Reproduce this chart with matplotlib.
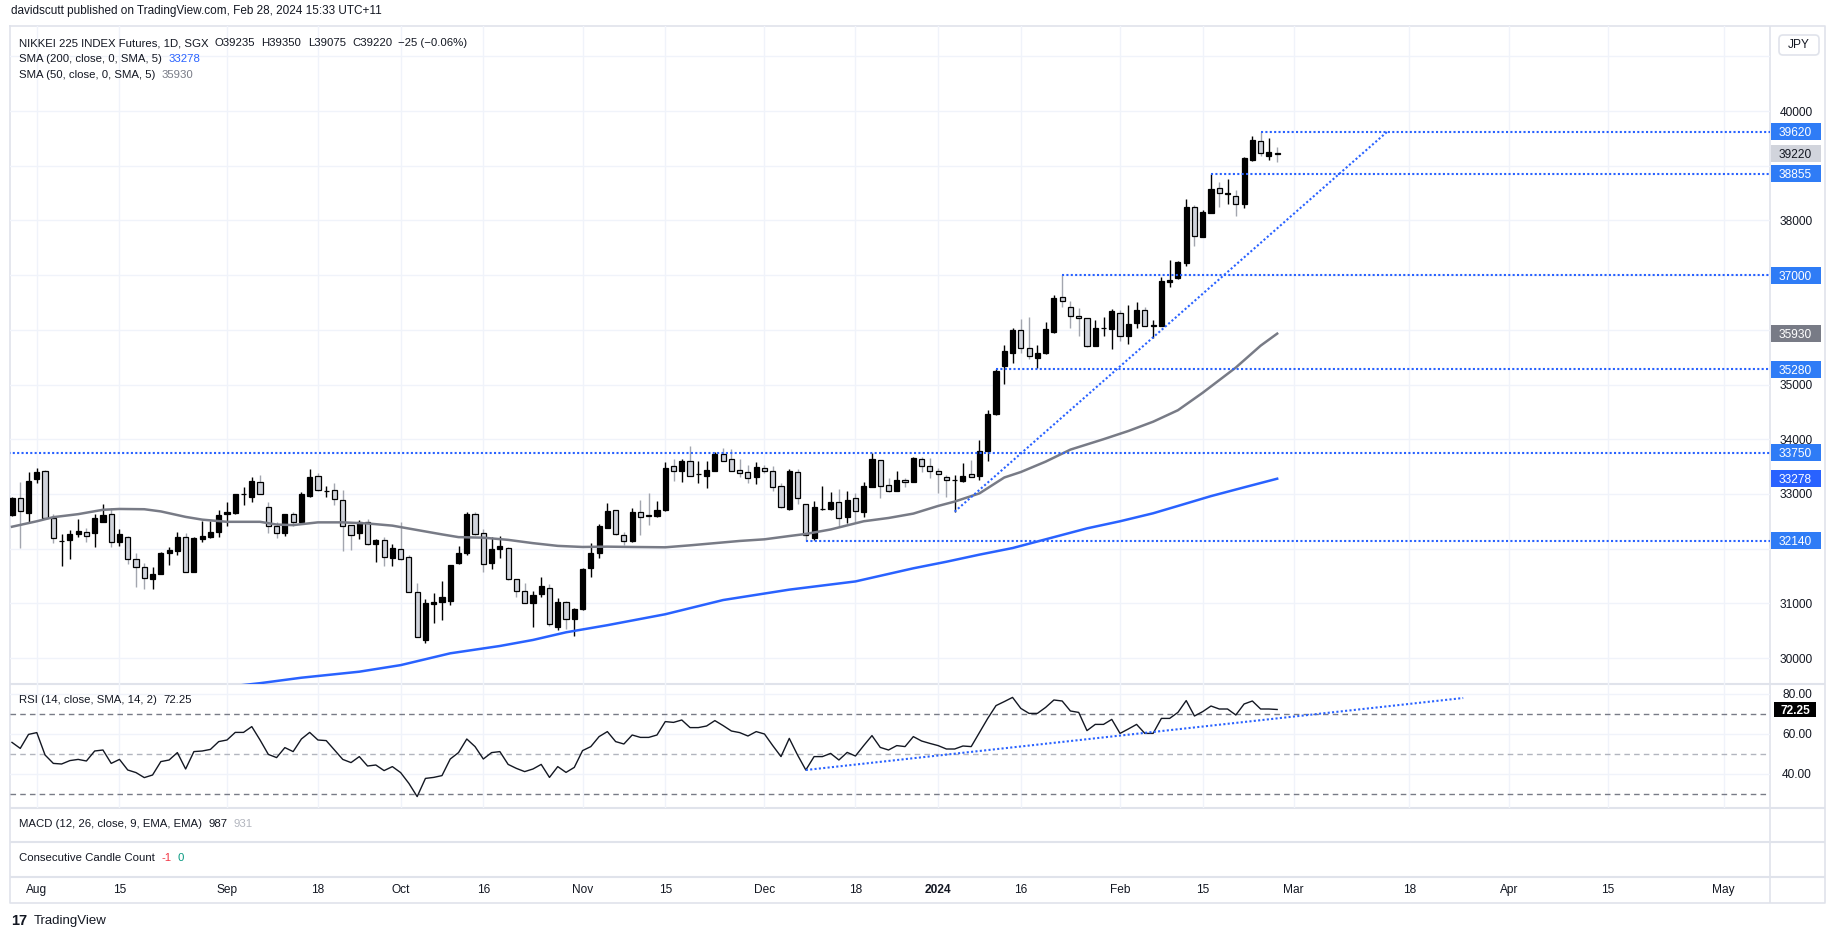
import numpy as np
import matplotlib.pyplot as plt
import matplotlib.transforms as mtransforms
from matplotlib.patches import Rectangle, FancyBboxPatch

plt.rcParams['font.family'] = ['Liberation Sans', 'DejaVu Sans']

# daily candles, 27 Jul 2023 -> 28 Feb 2024
opens = [32615, 32920, 32658, 33267, 33419, 32554, 32135, 32158, 32262, 32298,
         32280, 32493, 32633, 32128, 32219, 31805, 31658, 31439, 31537, 31914,
         31963, 32219, 31579, 32176, 32219, 32298, 32627, 32658, 32995, 32938,
         33212, 32767, 32420, 32280, 32633, 32493, 32962, 33328, 33050, 33072,
         32889, 32432, 32280, 32493, 32079, 32158, 31835, 31987, 31841, 31201,
         30330, 30982, 31019, 31043, 31732, 31914, 32633, 32280, 31732, 31987,
         32006, 31439, 31232, 31013, 31165, 31275, 30574, 31031, 30714, 30891,
         31652, 31926, 32383, 32706, 32249, 32146, 32664, 32615, 32597, 32706,
         33511, 33425, 33602, 33360, 33334, 33425, 33730, 33632, 33438, 33395,
         33316, 33480, 33425, 33151, 32725, 33407, 32810, 32201, 32717, 32718,
         32846, 32572, 32919, 32676, 33133, 33620, 33163, 33060, 33255, 33224,
         33632, 33511, 33419, 33316, 33250, 33236, 33358, 33328, 33785, 34455,
         35345, 35583, 35997, 35662, 35491, 35583, 35966, 36594, 36411, 36259,
         36210, 35710, 36025, 36009, 36302, 35893, 36131, 36362, 36070, 36076,
         36880, 36953, 37228, 38239, 37703, 38142, 38586, 38490, 38452, 38306,
         39104, 39452, 39184, 39235]
highs = [32950, 33224, 33407, 33468, 33430, 32633, 32268, 32341, 32536, 32371,
         32633, 32816, 32737, 32353, 32225, 31914, 31732, 31671, 31945, 32024,
         32310, 32292, 32219, 32505, 32505, 32706, 32859, 33005, 33133, 33316,
         33346, 32859, 32493, 32633, 32676, 33042, 33456, 33377, 33151, 33194,
         33072, 32440, 32524, 32542, 32176, 32219, 32079, 32493, 31884, 31366,
         31074, 31196, 31409, 31705, 32048, 32676, 32676, 32353, 32207, 32237,
         32024, 31445, 31378, 31226, 31488, 31354, 31092, 31040, 30909, 31640,
         32097, 32450, 32828, 32710, 32310, 32737, 32889, 33011, 32871, 33578,
         33632, 33632, 33876, 33602, 33608, 33760, 33834, 33815, 33632, 33529,
         33590, 33529, 33511, 33194, 33456, 33456, 32815, 32871, 33145, 33029,
         33090, 33054, 33011, 33224, 33750, 33625, 33285, 33419, 33297, 33669,
         33669, 33651, 33468, 33346, 33346, 33559, 33620, 33986, 34535, 35280,
         35723, 36027, 36198, 36228, 35723, 36137, 36637, 37000, 36527, 36393,
         36222, 36180, 36241, 36375, 36362, 36454, 36503, 36423, 36180, 36960,
         37276, 37261, 38391, 38282, 38190, 38855, 38708, 38757, 38556, 39153,
         39543, 39620, 39500, 39350]
lows = [32590, 32018, 32493, 33206, 32560, 32097, 31689, 31811, 32219, 32115,
        32036, 32481, 32036, 32055, 31719, 31305, 31263, 31263, 31530, 31701,
        31884, 31567, 31575, 32128, 32189, 32219, 32420, 32633, 32798, 32847,
        32990, 32292, 32189, 32231, 32420, 32475, 32938, 33060, 32950, 32798,
        31963, 31975, 32176, 32067, 31762, 31689, 31689, 31793, 31210, 30380,
        30282, 30648, 30691, 30970, 31719, 31884, 32249, 31579, 31622, 31835,
        31427, 31122, 31000, 30562, 31122, 30586, 30513, 30530, 30409, 30879,
        31488, 31835, 32371, 32249, 32067, 32128, 32249, 32432, 32584, 32688,
        33236, 33224, 33330, 33206, 33115, 33420, 33600, 33420, 33316, 33194,
        33175, 33389, 33054, 32749, 32706, 32816, 32140, 32160, 32700, 32706,
        32420, 32463, 32493, 32584, 33130, 32932, 33042, 33055, 33133, 33212,
        33407, 33285, 33011, 32950, 32676, 33224, 33310, 33255, 33608, 34450,
        35010, 35400, 35583, 35467, 35308, 35552, 35936, 36423, 36040, 35893,
        35680, 35705, 35893, 35644, 35802, 35735, 36040, 36070, 35845, 36070,
        36789, 36929, 37173, 37539, 37700, 38135, 38251, 38294, 38087, 38233,
        39092, 39184, 39104, 39075]
closes = [32920, 32688, 33237, 33395, 32566, 32189, 32145, 32262, 32323, 32231,
          32554, 32615, 32115, 32262, 31805, 31671, 31457, 31531, 31914, 31975,
          32219, 31579, 32201, 32231, 32310, 32615, 32676, 32999, 33005, 33237,
          32993, 32414, 32280, 32627, 32481, 32993, 33304, 33072, 33058, 32901,
          32414, 32249, 32493, 32079, 32158, 31853, 32018, 31805, 31214, 30391,
          31000, 31019, 31110, 31701, 31914, 32633, 32262, 31713, 31993, 32048,
          31439, 31226, 31013, 31153, 31317, 30617, 31019, 30708, 30891, 31630,
          31914, 32414, 32688, 32261, 32146, 32664, 32572, 32605, 32706, 33468,
          33425, 33602, 33334, 33370, 33438, 33730, 33608, 33425, 33377, 33285,
          33486, 33419, 33133, 32767, 33419, 32919, 32249, 32755, 32722, 32846,
          32554, 32889, 32694, 33145, 33639, 33151, 33054, 33255, 33212, 33651,
          33511, 33419, 33364, 33255, 33258, 33334, 33316, 33785, 34461, 35247,
          35613, 35997, 35662, 35528, 35570, 36015, 36576, 36533, 36259, 36222,
          35710, 36027, 36030, 36344, 35893, 36101, 36362, 36076, 36080, 36893,
          36911, 37234, 38239, 37721, 38148, 38568, 38495, 38500, 38294, 39135,
          39470, 39226, 39245, 39220]

rsi = [55.8, 52.8, 59.8, 60.7, 49.5, 45.3, 45.0, 46.7, 47.3, 46.5,
       51.5, 52.0, 45.3, 47.3, 42.0, 40.7, 38.2, 39.5, 46.2, 47.0,
       50.7, 42.5, 51.2, 51.5, 52.3, 56.2, 57.0, 60.8, 60.8, 63.7,
       57.0, 49.8, 48.2, 53.2, 51.2, 57.5, 60.8, 57.0, 56.7, 52.0,
       47.3, 45.7, 48.7, 44.0, 44.5, 41.7, 43.7, 40.7, 35.3, 28.7,
       37.8, 38.3, 39.2, 47.5, 50.7, 57.5, 53.7, 47.5, 50.7, 51.2,
       44.8, 42.8, 41.2, 42.5, 44.8, 38.3, 43.7, 40.8, 43.3, 51.7,
       53.7, 58.7, 61.2, 56.2, 55.0, 59.5, 58.3, 58.3, 59.5, 66.2,
       65.8, 67.0, 63.2, 63.2, 64.0, 66.7, 64.2, 61.5, 60.7, 59.0,
       61.2, 60.0, 54.2, 48.7, 57.8, 49.5, 42.0, 48.7, 48.7, 50.3,
       47.0, 50.8, 49.0, 54.2, 59.2, 53.3, 52.0, 54.2, 53.7, 58.7,
       56.5, 55.3, 54.2, 52.5, 52.5, 54.0, 53.7, 60.7, 67.8, 74.2,
       76.2, 78.3, 72.8, 70.3, 70.3, 73.3, 77.0, 76.5, 71.5, 70.8,
       61.7, 64.8, 64.8, 67.3, 60.3, 62.5, 64.8, 60.3, 60.3, 67.8,
       67.8, 70.8, 76.7, 69.0, 71.2, 74.0, 72.5, 72.5, 69.5, 75.0,
       76.5, 72.5, 72.5, 72.25]

# moving averages read at points along the lines (candle number, value)
sma50_idx = [1, 4, 6, 9, 12, 14, 17, 19, 22, 24, 27, 31, 33, 35, 38, 41, 44, 47,
             50, 53, 55, 58, 61, 64, 67, 70, 73, 76, 80, 83, 86, 89, 92, 95, 97,
             100, 104, 107, 110, 113, 115, 118, 121, 123, 126, 129, 133, 136,
             139, 142, 145, 147, 149, 152, 154]
sma50_val = [32400, 32500, 32575, 32630, 32710, 32725, 32720, 32680, 32580, 32530,
             32490, 32490, 32440, 32430, 32480, 32480, 32460, 32420, 32340, 32260,
             32210, 32200, 32160, 32100, 32050, 32030, 32036, 32030, 32024, 32060,
             32100, 32140, 32170, 32230, 32268, 32350, 32500, 32560, 32640, 32780,
             32860, 33010, 33300, 33400, 33590, 33810, 34000, 34150, 34320, 34530,
             34850, 35080, 35310, 35710, 35930]
sma200_idx = [28, 31, 36, 43, 48, 54, 60, 64, 68, 73, 80, 87, 95, 103, 110, 114,
              118, 122, 126, 131, 135, 139, 142, 146, 150, 154]
sma200_val = [29490, 29540, 29640, 29750, 29870, 30086, 30220, 30330, 30470, 30600,
              30800, 31060, 31250, 31400, 31640, 31760, 31890, 32010, 32170, 32370,
              32500, 32646, 32780, 32960, 33120, 33278]

# drawn levels and trend lines
levels = [39620, 38855, 37000, 35280, 33750, 32140]
level_start = [152, 146, 128, 120, 0, 97]
trend_idx = [115, 167.3]
trend_val = [32676, 39620]
rsi_trend_idx = [97, 176.5]
rsi_trend_val = [42.0, 78.0]

time_ticks = [4, 14, 27, 38, 48, 58, 70, 80, 92, 103, 113, 123, 135, 145, 156, 170, 182, 194, 208]
time_labels = ['Aug', '15', 'Sep', '18', 'Oct', '16', 'Nov', '15', 'Dec', '18', '2024',
               '16', 'Feb', '15', 'Mar', '18', 'Apr', '15', 'May']

W, H = 1834, 938
fig = plt.figure(figsize=(W / 100, H / 100), dpi=100)
fig.patch.set_facecolor('white')


def px_rect(x0, y0, x1, y1):
    return [x0 / W, 1 - y1 / H, (x1 - x0) / W, (y1 - y0) / H]


ov = fig.add_axes([0, 0, 1, 1], zorder=-1)
ov.set_xlim(0, W)
ov.set_ylim(H, 0)
ov.axis('off')
top = fig.add_axes([0, 0, 1, 1], zorder=10)
top.set_xlim(0, W)
top.set_ylim(H, 0)
top.axis('off')

ax = fig.add_axes(px_rect(10, 26, 1770, 684))
ax_rsi = fig.add_axes(px_rect(10, 684, 1770, 808), sharex=ax)
sc = fig.add_axes(px_rect(1770, 26, 1825, 684), sharey=ax)
sc_rsi = fig.add_axes(px_rect(1770, 684, 1825, 808), sharey=ax_rsi)

ax.set_xlim(0.76, 213.6)
ax.set_ylim(29525, 41554)
ax_rsi.set_ylim(23, 85)

for a in (ax, ax_rsi):
    a.set_facecolor('none')
    for s in a.spines.values():
        s.set_visible(False)
    a.tick_params(length=0, labelbottom=False, labelleft=False)
    a.set_xticks(time_ticks)
    a.grid(True, color='#f0f3fa', lw=1)
    a.set_axisbelow(True)
ax.set_yticks(range(30000, 41001, 1000))
ax_rsi.set_yticks([40, 60, 80])
for a in (sc, sc_rsi):
    a.axis('off')
    a.set_xlim(0, 55)

# frame and pane separators
border = '#e0e3eb'
ov.plot([10, 1825, 1825, 10, 10], [26, 26, 903, 903, 26], color=border, lw=1.2)
ov.hlines([684, 808, 842, 877], 10, 1825, color=border, lw=1.5)
ov.vlines(1770, 26, 903, color=border, lw=1.2)

# candles
o = np.array(opens)
h = np.array(highs)
l = np.array(lows)
c = np.array(closes)
x = np.arange(1, len(c) + 1)
up = c >= o
ax.vlines(x[up], l[up], h[up], color='#000000', lw=1, zorder=2)
ax.vlines(x[~up], l[~up], h[~up], color='#a3a6af', lw=1, zorder=2)
ax.bar(x, np.abs(c - o), bottom=np.minimum(o, c), width=0.62,
       color=np.where(up, '#000000', '#d1d4dc'), edgecolor='#000000', lw=0.9, zorder=3)

ax.plot(sma50_idx, sma50_val, color='#787b86', lw=1.8, zorder=4)
ax.plot(sma200_idx, sma200_val, color='#2962ff', lw=1.8, zorder=4)

dots = (0, (1, 1.1))
xr = ax.get_xlim()[1]
for lev, st in zip(levels, level_start):
    ax.plot([st, xr], [lev, lev], color='#2962ff', lw=1.5, ls=dots, zorder=5)
ax.plot(trend_idx, trend_val, color='#2962ff', lw=1.5, ls=dots, zorder=5)

# RSI pane
ax_rsi.plot(x, rsi, color='#131722', lw=1, zorder=4)
ax_rsi.axhline(70, color='#787b86', lw=1, ls=(0, (4, 3)))
ax_rsi.axhline(50, color='#b2b5be', lw=1, ls=(0, (4, 3)))
ax_rsi.axhline(30, color='#787b86', lw=1, ls=(0, (4, 3)))
ax_rsi.plot(rsi_trend_idx, rsi_trend_val, color='#2962ff', lw=1.5, ls=dots, zorder=5)

# price scale
box_h = 17 * (41554 - 29525) / 658
boxes = [(39620, '#2f7cf6', 'white'), (39220, '#d1d4dc', '#131722'),
         (38855, '#2f7cf6', 'white'), (37000, '#2f7cf6', 'white'),
         (35930, '#787b86', 'white'), (35280, '#2f7cf6', 'white'),
         (33750, '#2f7cf6', 'white'), (33278, '#2962ff', 'white'),
         (32140, '#2f7cf6', 'white')]
for v in range(30000, 40001, 1000):
    # ticks sitting under a price label box are hidden, as on the chart
    if min(abs(v - b[0]) for b in boxes) < 200:
        continue
    sc.text(26, v, str(v), ha='center', va='center_baseline', fontsize=8.6,
            color='#131722', zorder=2)
for val, fc, tc in boxes:
    sc.add_patch(Rectangle((0.5, val - box_h / 2), 50, box_h, fc=fc, ec='none',
                           zorder=5, clip_on=False))
    sc.text(25.5, val, str(val), ha='center', va='center_baseline', fontsize=8.6,
            color=tc, zorder=6, clip_on=False)

for v in (80, 60, 40):
    sc_rsi.text(27, v, f'{v:.2f}', ha='center', va='center_baseline', fontsize=8.6,
                color='#131722')
rsi_h = 15 * 62 / 124
sc_rsi.add_patch(Rectangle((4, rsi[-1] - rsi_h / 2), 42, rsi_h, fc='#000000',
                           ec='none', zorder=5, clip_on=False))
sc_rsi.text(25, rsi[-1], f'{rsi[-1]:.2f}', ha='center', va='center_baseline',
            fontsize=8.6, color='white', fontweight='bold', zorder=6)

top.add_patch(FancyBboxPatch((1779, 35), 40, 20, boxstyle='round,pad=0,rounding_size=4',
                             fc='white', ec=border, lw=1.2))
top.text(1799, 45.5, 'JPY', ha='center', va='center', fontsize=8.6, color='#131722')

# time axis
tt = mtransforms.blended_transform_factory(ax.transData, top.transData)
for tx, lab in zip(time_ticks, time_labels):
    top.text(tx, 890, lab, transform=tt, ha='center', va='center', fontsize=8.6,
             color='#131722', fontweight='bold' if lab == '2024' else 'normal')

# texts
ink = '#131722'
top.text(11, 11, 'davidscutt published on TradingView.com, Feb 28, 2024 15:33 UTC+11',
         fontsize=8.5, va='center', color=ink)


def legend_row(y, parts, gap=4.5):
    prev = None
    for s, col in parts:
        if prev is None:
            prev = top.text(19, y, s, fontsize=8.2, va='center', color=col)
        else:
            prev = top.annotate(s, xy=(1, 0.5), xycoords=prev, xytext=(gap, 0),
                                textcoords='offset points', ha='left', va='center',
                                fontsize=8.2, color=col)


legend_row(43, [('NIKKEI 225 INDEX Futures, 1D, SGX', ink), ('O39235', ink),
                ('H39350', ink), ('L39075', ink), ('C39220', ink),
                ('\u221225 (\u22120.06%)', ink)])
legend_row(59, [('SMA (200, close, 0, SMA, 5)', ink), ('33278', '#2962ff')])
legend_row(75, [('SMA (50, close, 0, SMA, 5)', ink), ('35930', '#787b86')])
legend_row(700, [('RSI (14, close, SMA, 14, 2)', ink), ('72.25', ink)])
legend_row(824, [('MACD (12, 26, close, 9, EMA, EMA)', ink), ('987', ink),
                 ('931', '#b2b5be')])
legend_row(858, [('Consecutive Candle Count', ink), ('-1', '#f23645'),
                 ('0', '#089981')])

top.text(11, 921, '17', fontsize=10.5, fontweight='bold', va='center', color=ink)
top.text(34, 921, 'TradingView', fontsize=9.5, va='center', color=ink)

fig.savefig('out.png', dpi=100, facecolor='white')
